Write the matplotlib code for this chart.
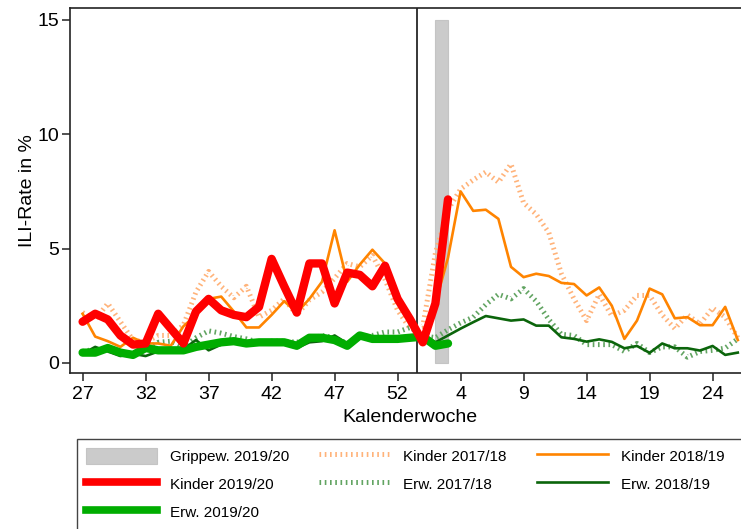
import matplotlib
matplotlib.use("Agg")
import matplotlib.pyplot as plt
from matplotlib.patches import Rectangle, Patch
from matplotlib.lines import Line2D

plt.rcParams['font.family'] = ['Liberation Sans', 'DejaVu Sans']

# x positions: season weeks 27..53 then 1..26 mapped to a running index 27..79
weeks_full = list(range(27, 80))
weeks_2019 = list(range(27, 57))
tick_pos = [27, 32, 37, 42, 47, 52, 57, 62, 67, 72, 77]
tick_labels = ['27', '32', '37', '42', '47', '52', '4', '9', '14', '19', '24']

kinder_1718 = [2.2, 1.9, 2.6, 1.8, 1.0, 0.9, 1.2, 1.2, 1.65, 3.1, 4.0, 3.35, 2.85, 3.35,
               2.0, 2.3, 2.8, 2.1, 2.75, 3.1, 3.7, 4.35, 4.2, 4.7, 3.65, 2.3, 1.5,
               1.6, 4.8, 6.7, 7.6, 8.0, 8.35, 7.9, 8.7, 7.0, 6.5, 5.7, 3.9, 2.8, 1.85,
               3.0, 2.05, 2.3, 2.95, 2.95, 2.1, 1.5, 2.1, 1.7, 2.4, 2.0, 1.1]
kinder_1819 = [2.15, 1.15, 0.95, 0.7, 1.1, 0.85, 0.85, 0.75, 1.6, 2.1, 2.8, 2.9, 2.25, 1.55,
               1.55, 2.1, 2.7, 2.2, 2.8, 3.55, 5.8, 3.55, 4.3, 4.95, 4.35, 2.8, 1.7,
               1.1, 2.6, 4.6, 7.5, 6.65, 6.7, 6.3, 4.2, 3.75, 3.9, 3.8, 3.5, 3.45, 2.95,
               3.3, 2.5, 1.05, 1.85, 3.25, 3.0, 1.95, 2.0, 1.65, 1.65, 2.45, 1.0]
erw_1718 = [0.5, 0.6, 0.55, 0.4, 0.35, 0.6, 0.9, 0.95, 0.7, 1.1, 1.4, 1.3, 1.15, 1.05,
            0.9, 0.95, 0.95, 0.9, 1.05, 1.2, 1.1, 0.85, 1.1, 1.2, 1.35, 1.35, 1.55,
            1.2, 1.1, 1.45, 1.75, 2.0, 2.55, 3.0, 2.8, 3.25, 2.7, 1.9, 1.25, 1.2, 0.8,
            0.8, 0.8, 0.5, 0.85, 0.45, 0.7, 0.7, 0.25, 0.5, 0.55, 0.65, 1.05]
erw_1819 = [0.4, 0.7, 0.5, 0.3, 0.4, 0.3, 0.5, 0.55, 0.6, 1.0, 0.55, 0.8, 0.9, 0.85,
            0.9, 0.9, 0.85, 0.65, 0.9, 0.95, 1.2, 0.85, 1.15, 1.1, 1.1, 1.15, 1.1,
            1.2, 0.9, 1.2, 1.5, 1.78, 2.05, 1.95, 1.85, 1.9, 1.63, 1.63, 1.12, 1.05, 0.93,
            1.03, 0.92, 0.64, 0.74, 0.44, 0.85, 0.64, 0.64, 0.54, 0.74, 0.35, 0.45]
kinder_1920 = [1.8, 2.15, 1.9, 1.2, 0.8, 0.85, 2.15, 1.5, 0.85, 2.25, 2.8, 2.3, 2.1, 2.0,
               2.45, 4.55, 3.35, 2.2, 4.35, 4.35, 2.6, 3.95, 3.85, 3.35, 4.25, 2.8, 1.9,
               0.9, 2.6, 7.15]
erw_1920 = [0.45, 0.45, 0.65, 0.45, 0.35, 0.65, 0.55, 0.55, 0.55, 0.7, 0.8, 0.9, 0.95, 0.85,
            0.9, 0.9, 0.9, 0.75, 1.1, 1.1, 1.0, 0.75, 1.2, 1.05, 1.05, 1.05, 1.1,
            1.15, 0.75, 0.85]
grippe_start, grippe_end, grippe_top = 55, 56, 15
year_break = 53.5

W, H = 741, 529
fig = plt.figure(figsize=(W / 100, H / 100), dpi=100)
ax = fig.add_axes([70 / W, (H - 373.3) / H, 680.4 / W, 365.0 / H])

c_orange = '#ff8400'
c_orange_dot = '#ffb37a'
c_dkgreen = '#0b650b'
c_green_dot = '#62a462'
c_red = '#ff0000'
c_green = '#00ad00'

ax.add_patch(Rectangle((grippe_start, 0), grippe_end - grippe_start, grippe_top,
                       facecolor='#cbcbcb', edgecolor='#c4c4c4', lw=0.8, zorder=1))
ax.axvline(year_break, color='black', lw=1.1, zorder=2)

dot_kw = dict(lw=3.6, dashes=(0.33, 0.72), solid_capstyle='butt', dash_capstyle='butt')
ax.plot(weeks_full, kinder_1718, color=c_orange_dot, zorder=3, **dot_kw)
ax.plot(weeks_full, erw_1718, color=c_green_dot, zorder=3, **dot_kw)
ax.plot(weeks_full, kinder_1819, color=c_orange, lw=1.9, zorder=4)
ax.plot(weeks_full, erw_1819, color=c_dkgreen, lw=1.9, zorder=4)
ax.plot(weeks_2019, erw_1920, color=c_green, lw=6, zorder=5, solid_capstyle='round', solid_joinstyle='round')
ax.plot(weeks_2019, kinder_1920, color=c_red, lw=6, zorder=6, solid_capstyle='round', solid_joinstyle='round')

ax.set_xlim(26, 80)
ax.set_ylim(-0.455, 15.51)
ax.set_xticks(tick_pos)
ax.set_xticklabels(tick_labels)
ax.set_yticks([0, 5, 10, 15])
ax.tick_params(axis='both', labelsize=14, length=6, width=1.1, color='#222222')
ax.tick_params(axis='y', pad=1.5)
ax.tick_params(axis='x', pad=3.5)
for s in ['left', 'bottom', 'top']:
    ax.spines[s].set_linewidth(1.2)
    ax.spines[s].set_color('#222222')
ax.spines['right'].set_visible(False)

ax.set_ylabel('ILI-Rate in %', fontsize=14)
ax.yaxis.set_label_coords(-0.063, 0.5)
ax.yaxis.label.set_va('center')
ax.set_xlabel('Kalenderwoche', fontsize=14)
ax.xaxis.set_label_coords(0.5, -0.12)
ax.xaxis.label.set_va('center')

# legend frame (extends past the figure edge)
fig.patches.append(Rectangle((77.3 / W, -0.05), (760 - 77.3) / W, (H - 439 + 26) / H,
                             transform=fig.transFigure, facecolor='white',
                             edgecolor='#444444', lw=1.0, zorder=0))

handles = [
    Patch(facecolor='#cbcbcb', edgecolor='#c4c4c4', lw=0.8),
    Line2D([], [], color=c_orange_dot, **dot_kw),
    Line2D([], [], color=c_orange, lw=1.9),
    Line2D([], [], color=c_red, lw=5.5),
    Line2D([], [], color=c_green_dot, **dot_kw),
    Line2D([], [], color=c_dkgreen, lw=1.9),
    Line2D([], [], color=c_green, lw=5.5),
]
labels = ['Grippew. 2019/20', 'Kinder 2017/18', 'Kinder 2018/19',
          'Kinder 2019/20', 'Erw. 2017/18', 'Erw. 2018/19', 'Erw. 2019/20']
# reorder for column-major fill in matplotlib (ncol=3)
order = [0, 3, 6, 1, 4, 2, 5]
fig.legend([handles[i] for i in order], [labels[i] for i in order], ncol=3,
           loc='upper left', bbox_to_anchor=(77.3 / W, 1 - 439 / H),
           frameon=False, fontsize=11, handlelength=4.65, handleheight=1.24,
           handletextpad=0.85, columnspacing=1.96, borderpad=0.57, labelspacing=0.78,
           borderaxespad=0)

fig.savefig('out.png', dpi=100)
